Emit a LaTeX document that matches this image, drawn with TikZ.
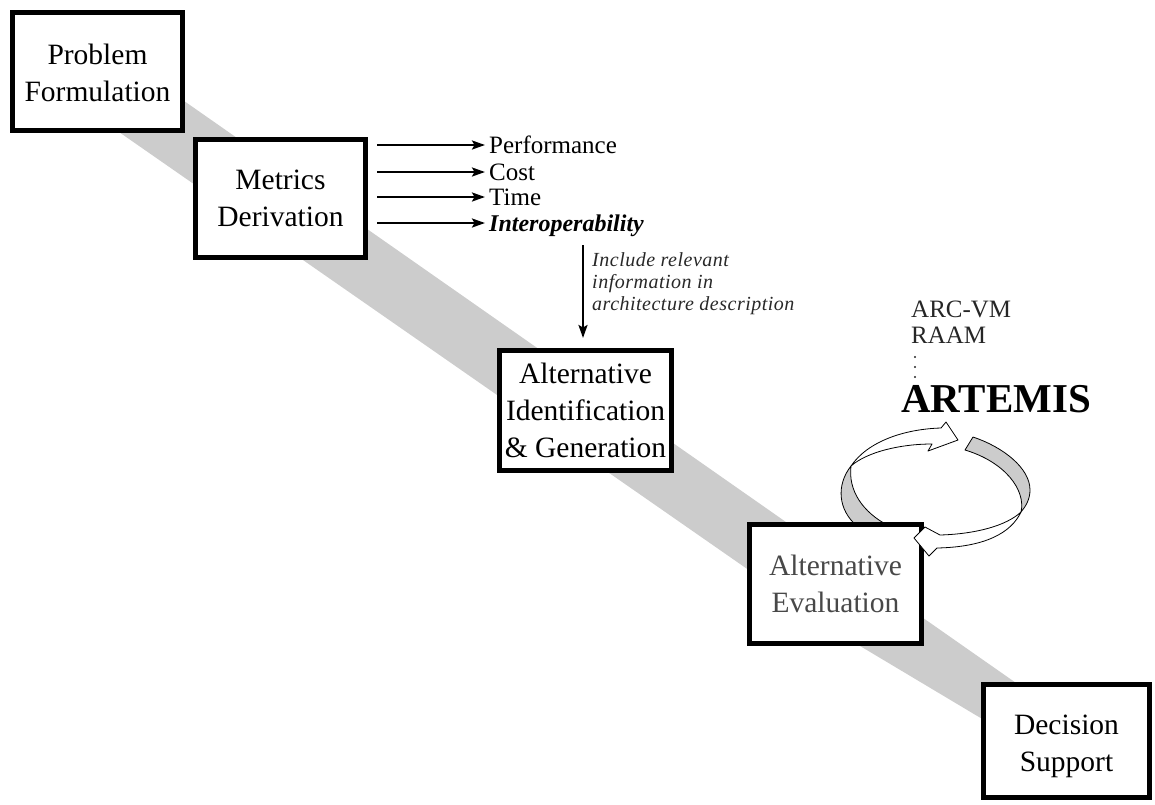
\documentclass[tikz,border=0pt]{standalone}
\usepackage{fontspec}
\setmainfont{Liberation Serif}
\usetikzlibrary{arrows.meta}
\definecolor{bandgray}{RGB}{204,204,204}
\definecolor{ringgray}{RGB}{204,204,204}
\definecolor{evaltext}{RGB}{72,72,72}
\definecolor{notetext}{RGB}{40,40,40}

\begin{document}
\begin{tikzpicture}[x=1pt,y=-1pt,
  stagebox/.style={draw=black, line width=5pt, fill=white, inner sep=0pt},
  boxtext/.style={font=\fontsize{29.5}{37}\selectfont, align=center, inner sep=0pt},
  metric/.style={font=\fontsize{25}{30}\selectfont, anchor=west, inner sep=0pt,
                 text height=16pt, text depth=0pt},
  metarrow/.style={line width=2.2pt, -{Stealth[length=13pt,width=9pt,inset=2.5pt]}},
  ribbon/.style={draw=black, line width=0.8pt, line join=round},
  tooltext/.style={font=\fontsize{25}{30}\selectfont, anchor=base west, inner sep=0pt, text=black!85}]
\useasboundingbox (0,0) rectangle (1155,804);

% diagonal process band
\fill[bandgray] (142,71.5) -- (1099,741) -- (1066,769) -- (845,637) -- (32,71.5) -- cycle;

% evaluation cycle (ribbon loop)
\filldraw[ribbon, fill=ringgray] (851,466) .. controls (836,485) and (838,510) .. (857,526)
  -- (889,526) .. controls (862,512) and (848,490) .. (851,466) -- cycle;
\filldraw[ribbon, fill=ringgray] (973,437) .. controls (1003,447) and (1030,468) .. (1030,490)
  .. controls (1030,499) and (1026,506) .. (1021,512)
  .. controls (1026,490) and (1005,462) .. (965,450) -- cycle;
\filldraw[ribbon, fill=white] (851,466) .. controls (868,441) and (905,429) .. (941,428)
  -- (946,422) -- (958,440) -- (928,451) -- (932,444)
  .. controls (900,444) and (867,452) .. (851,466) -- cycle;

% process stages
\node[stagebox, minimum width=170pt, minimum height=118pt] (b1) at (97.5,71.5) {};
\node[stagebox, minimum width=170pt, minimum height=118pt] (b2) at (280.5,198.5) {};
\node[stagebox, minimum width=172pt, minimum height=120pt] (b3) at (585.5,410.5) {};
\node[stagebox, minimum width=172pt, minimum height=119pt] (b4) at (835.5,584) {};
\node[stagebox, minimum width=166pt, minimum height=113pt] (b5) at (1066.5,741) {};

\node[boxtext] (t1) at (97.5,72.5) {Problem\\Formulation};
\node[boxtext] (t2) at (280.5,198.5) {Metrics\\Derivation};
\node[boxtext] (t3) at (585.5,410) {Alternative\\Identification\\\&\ Generation};
\node[boxtext, text=evaltext] (t4) at (835.5,583.5) {Alternative\\Evaluation};
\node[boxtext] (t5) at (1066.5,746.6) {Decision\\Support};

% return arrow of the cycle, drawn over the evaluation box
\filldraw[ribbon, fill=white] (1021,512) .. controls (1011,533) and (985,547) .. (937,548)
  -- (929,556) -- (914,538) -- (925,527) -- (940,535)
  .. controls (975,534) and (1006,526) .. (1021,512) -- cycle;

% derived metrics
\node[metric] (mp) at (489,145) {Performance};
\node[metric] (mc) at (489,172) {Cost};
\node[metric] (mt) at (489,197) {Time};
\node[metric, font=\fontsize{24}{30}\selectfont\bfseries\itshape] (mi) at (489,223) {Interoperability};
\foreach \m in {mp,mc,mt,mi}
  \draw[metarrow, shorten >=4pt] ([xshift=9pt]b2.east |- \m.west) -- (\m.west);

% note feeding the alternatives
\coordinate (notetop) at (583,245);
\draw[metarrow, shorten >=10pt] (notetop) -- (notetop |- b3.north);
\node[anchor=north west, align=left, inner sep=0pt, text=notetext,
      font=\fontsize{20}{22}\selectfont\itshape\addfontfeature{LetterSpace=2.5}]
  (note) at (592,252.5) {Include relevant\\information in\\architecture description};

% evaluation tools
\node[tooltext] (arcvm) at (911,317) {ARC-VM};
\node[tooltext] (raam) at (911,343) {RAAM};
\foreach \yy in {357,367,377} \fill[black!85] (915,\yy) circle (1.1pt);
\node[anchor=base west, inner sep=0pt, font=\fontsize{41}{48}\selectfont\bfseries] (artemis) at (901,412) {ARTEMIS};
\end{tikzpicture}
\end{document}
